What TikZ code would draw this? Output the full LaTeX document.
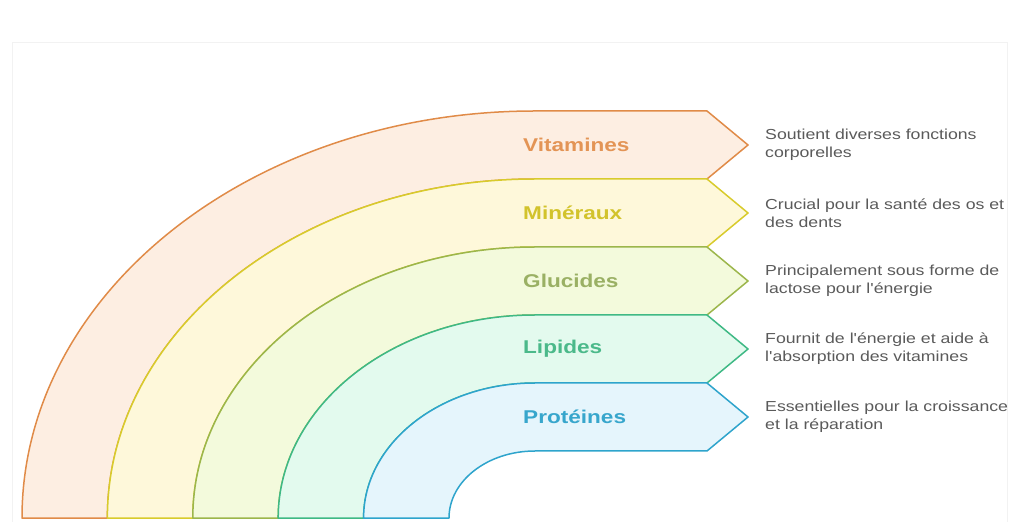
\documentclass[tikz,border=0pt]{standalone}
\usepackage{fontspec}
\setmainfont{Liberation Sans}[FakeStretch=1.22, Ligatures=TeXOff]
\begin{document}
% colours of the five bands: border, fill, title
\definecolor{vitD}{HTML}{E08B48}\definecolor{vitF}{HTML}{FDEEE2}\definecolor{vitT}{HTML}{E39455}
\definecolor{minD}{HTML}{D8CB2C}\definecolor{minF}{HTML}{FEF8DA}\definecolor{minT}{HTML}{D2C32C}
\definecolor{gluD}{HTML}{9CB64B}\definecolor{gluF}{HTML}{F3FADC}\definecolor{gluT}{HTML}{9AB064}
\definecolor{lipD}{HTML}{3FB985}\definecolor{lipF}{HTML}{E3FAEE}\definecolor{lipT}{HTML}{4BB98A}
\definecolor{proD}{HTML}{2EA4CC}\definecolor{proF}{HTML}{E5F5FC}\definecolor{proT}{HTML}{37A6CC}
\definecolor{descgray}{HTML}{5A5A5A}
% one band: #1,#2 outer radii, #3,#4 inner radii, #5 colour prefix
\newcommand\bandshape[5]{%
  \filldraw[band, draw=#5D, fill=#5F]
    ({535-#1},4) arc[start angle=180, end angle=90, x radius=#1, y radius=#2]
    -- (707,{4+#2}) -- (748,{4+(#2+#4)/2}) -- (707,{4+#4}) -- (535,{4+#4})
    arc[start angle=90, end angle=180, x radius=#3, y radius=#4] -- cycle;}
\begin{tikzpicture}[x=1pt,y=1pt,
  band/.style={line width=1.5pt, line join=round},
  title/.style={anchor=west, inner sep=0pt, font=\fontsize{18.5}{22}\selectfont\bfseries},
  desc/.style={anchor=west, inner sep=0pt, align=left, text=descgray,
    font=\fontsize{14.5}{18}\selectfont}]
\useasboundingbox (0,0) rectangle (1017,522);
% faint frame of the page
\draw[black!5, line width=0.8pt] (12,0) -- (12,480) -- (1007,480) -- (1007,0);
% bands, from the outside in
\bandshape{513}{407}{427.6}{339}{vit}
\bandshape{427.6}{339}{342.2}{271}{min}
\bandshape{342.2}{271}{256.8}{203}{glu}
\bandshape{256.8}{203}{171.4}{135}{lip}
\bandshape{171.4}{135}{86}{67}{pro}
% titles
\node[title, text=vitT] (tvit) at (523,377) {Vitamines};
\node[title, text=minT] (tmin) at (523,309) {Minéraux};
\node[title, text=gluT] (tglu) at (523,241) {Glucides};
\node[title, text=lipT] (tlip) at (523,173) {Lipides};
\node[title, text=proT] (tpro) at (523,105) {Protéines};
% descriptions
\node[desc] (dvit) at (765,377) {Soutient diverses fonctions\\corporelles};
\node[desc] (dmin) at (765,309) {Crucial pour la santé des os et\\des dents};
\node[desc] (dglu) at (765,241) {Principalement sous forme de\\lactose pour l'énergie};
\node[desc] (dlip) at (765,173) {Fournit de l'énergie et aide à\\l'absorption des vitamines};
\node[desc] (dpro) at (765,105) {Essentielles pour la croissance\\et la réparation};
\end{tikzpicture}
\end{document}
